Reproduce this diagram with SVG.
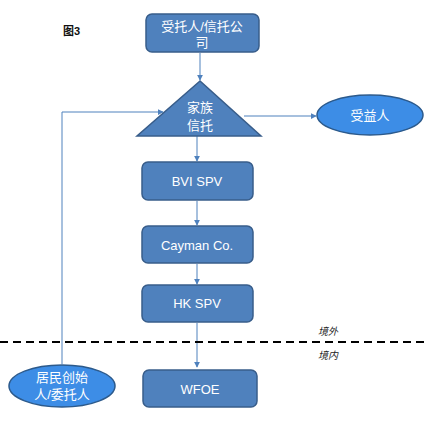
<svg xmlns="http://www.w3.org/2000/svg" width="429" height="424" viewBox="0 0 429 424">
<style>
.box{fill:#4f81bd;stroke:#385d8a;stroke-width:1.5}
.ell{fill:#3d8de6;stroke:#2c5a8c;stroke-width:1.5}
.t{font-family:"Liberation Sans","Noto Sans CJK SC",sans-serif;fill:#fff;font-size:13px;text-anchor:middle}
.c{fill:none;stroke:#4f81bd;stroke-width:1}
.lbl{font-family:"Liberation Sans","Noto Sans CJK SC",sans-serif;font-size:10px;font-style:italic;fill:#222}
</style>
<defs>
<marker id="ah" viewBox="0 0 8 8" refX="7" refY="4" markerWidth="6" markerHeight="6" orient="auto" markerUnits="userSpaceOnUse">
<path d="M0,0 L8,4 L0,8 z" fill="#4f81bd"/>
</marker>
</defs>
<rect width="429" height="424" fill="#fff"/>
<text x="63" y="35" font-family="Liberation Sans,Noto Sans CJK SC,sans-serif" font-size="11" font-weight="bold" fill="#111">图3</text>
<g id="connectors">
<line class="c" x1="200" y1="53" x2="200" y2="80" marker-end="url(#ah)"/>
<line class="c" x1="244" y1="116" x2="316" y2="116" marker-end="url(#ah)"/>
<polyline class="c" points="62,364 62,112 163,112" marker-end="url(#ah)"/>
<line class="c" x1="197" y1="136" x2="197" y2="161" marker-end="url(#ah)"/>
<line class="c" x1="197" y1="201" x2="197" y2="225" marker-end="url(#ah)"/>
<line class="c" x1="197" y1="264" x2="197" y2="284" marker-end="url(#ah)"/>
<line class="c" x1="197" y1="323" x2="197" y2="367" marker-end="url(#ah)"/>
</g>
<g id="boundary">
<line x1="0" y1="342" x2="429" y2="342" stroke="#000" stroke-width="2.2" stroke-dasharray="8,5"/>
<text class="lbl" x="318" y="335">境外</text>
<text class="lbl" x="318" y="359">境内</text>
</g>
<g id="trustee">
<rect class="box" x="146" y="14" width="113" height="38" rx="6"/>
<text class="t" x="202" y="31">受托人/信托公</text>
<text class="t" x="202" y="47">司</text>
</g>
<g id="family-trust">
<polygon class="box" points="200,81 137,136 261,136" stroke="none"/>
<text class="t" x="200" y="112">家族</text>
<text class="t" x="200" y="130">信托</text>
</g>
<g id="beneficiary">
<ellipse class="ell" cx="370" cy="115" rx="53" ry="20"/>
<text class="t" x="370" y="120">受益人</text>
</g>
<g id="bvi">
<rect class="box" x="142" y="162" width="111" height="38" rx="6"/>
<text class="t" x="197" y="186">BVI SPV</text>
</g>
<g id="cayman">
<rect class="box" x="142" y="226" width="111" height="37" rx="6"/>
<text class="t" x="197" y="250">Cayman Co.</text>
</g>
<g id="hk">
<rect class="box" x="142" y="285" width="111" height="37" rx="6"/>
<text class="t" x="197" y="308">HK SPV</text>
</g>
<g id="wfoe">
<rect class="box" x="143" y="370" width="114" height="37" rx="6"/>
<text class="t" x="200" y="394">WFOE</text>
</g>
<g id="founder">
<ellipse class="ell" cx="62" cy="386" rx="53" ry="21"/>
<text class="t" x="62" y="382">居民创始</text>
<text class="t" x="62" y="399">人/委托人</text>
</g>
</svg>
